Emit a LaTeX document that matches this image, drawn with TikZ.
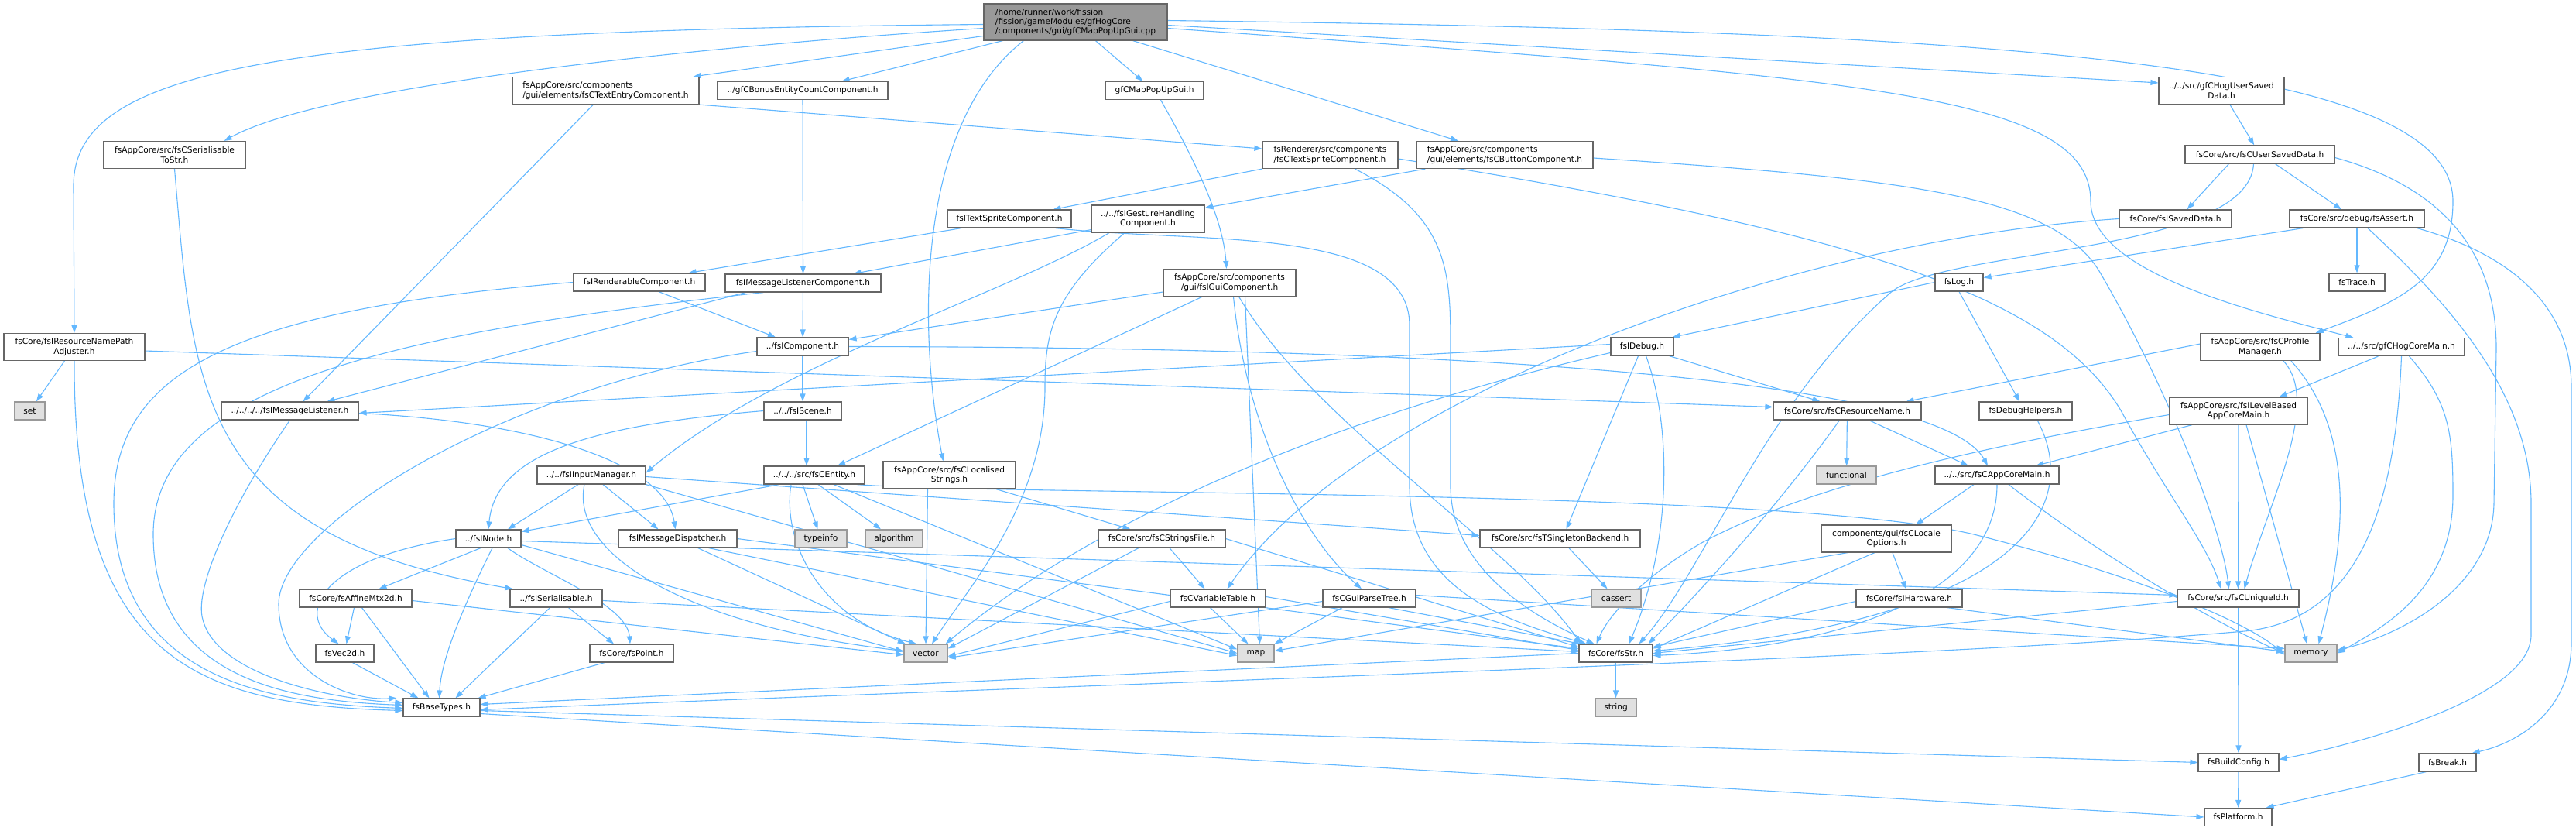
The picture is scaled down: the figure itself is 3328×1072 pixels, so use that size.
\documentclass[tikz,border=0pt]{standalone}
\usepackage{fontspec}
\setmainfont{DejaVu Sans}
\usetikzlibrary{arrows.meta}
\definecolor{edgec}{HTML}{63B8FF}
\definecolor{ndborder}{HTML}{666666}
\definecolor{extfill}{HTML}{E0E0E0}
\definecolor{extborder}{HTML}{999999}
\definecolor{rootfill}{HTML}{999999}
\pgfdeclarelayer{back}
\pgfdeclarelayer{edges}
\pgfsetlayers{back,edges,main}
\tikzset{
  nd/.style={draw=ndborder, fill=white, line width=1.2pt, inner xsep=3pt, inner ysep=2pt,
    font=\fontsize{10.6}{12.4}\selectfont, minimum height=23pt},
  extn/.style={nd, draw=extborder, fill=extfill},
  rootn/.style={nd, fill=rootfill},
  edg/.style={draw=edgec, line width=1.1pt, -{Triangle[length=10pt,width=7pt]}},
}
\begin{document}
\begin{tikzpicture}[x=1pt,y=-1pt]
\begin{pgfonlayer}{back}
\fill[white] (0,0) rectangle (3328,1072);
\end{pgfonlayer}
\useasboundingbox (0,0) rectangle (3328,1072);

% ---------- nodes ----------
\node[rootn, minimum width=237pt, minimum height=47pt, align=left] (root) at (1389.5,28.5) {/home/runner/work/fission\\/fission/gameModules/gfHogCore\\/components/gui/gfCMapPopUpGui.cpp};
\node[nd, minimum width=183pt, minimum height=35pt, align=center] (serial) at (225.5,200) {fsAppCore/src/fsCSerialisable\\ToStr.h};
\node[nd, minimum width=182pt, minimum height=35pt, align=center] (adj) at (96,448) {fsCore/fsIResourceNamePath\\Adjuster.h};
\node[extn, minimum width=39pt] (set) at (38.5,530.5) {set};
\node[nd, minimum width=241pt, minimum height=35pt, align=left] (textentry) at (782.5,117) {fsAppCore/src/components\\/gui/elements/fsCTextEntryComponent.h};
\node[nd, minimum width=220pt] (bonus) at (1037,117) {../gfCBonusEntityCountComponent.h};
\node[nd, minimum width=127pt] (mappopup) at (1491.5,117) {gfCMapPopUpGui.h};
\node[nd, minimum width=228pt, minimum height=35pt, align=left] (button) at (1944,200) {fsAppCore/src/components\\/gui/elements/fsCButtonComponent.h};
\node[nd, minimum width=162pt, minimum height=35pt, align=center] (hogusd) at (2870,117) {../../src/gfCHogUserSaved\\Data.h};
\node[nd, minimum width=175pt, minimum height=35pt, align=left] (textsprite) at (1718.5,200) {fsRenderer/src/components\\/fsCTextSpriteComponent.h};
\node[nd, minimum width=160pt] (itextsprite) at (1304,282.5) {fsITextSpriteComponent.h};
\node[nd, minimum width=146pt, minimum height=35pt, align=center] (igesture) at (1483,282.5) {../../fsIGestureHandling\\Component.h};
\node[nd, minimum width=170pt] (irenderable) at (826,364.5) {fsIRenderableComponent.h};
\node[nd, minimum width=201pt] (imsglistcomp) at (1037.5,365.5) {fsIMessageListenerComponent.h};
\node[nd, minimum width=171pt, minimum height=35pt, align=center] (iguicomp) at (1588.5,365) {fsAppCore/src/components\\/gui/fsIGuiComponent.h};
\node[nd, minimum width=193pt] (usersaved) at (2919.5,199.5) {fsCore/src/fsCUserSavedData.h};
\node[nd, minimum width=145pt] (isaved) at (2810.5,282.5) {fsCore/fsISavedData.h};
\node[nd, minimum width=174pt] (assert) at (3045,282.5) {fsCore/src/debug/fsAssert.h};
\node[nd, minimum width=62pt] (log) at (2531,364.5) {fsLog.h};
\node[nd, minimum width=72pt] (trace) at (3045,364.5) {fsTrace.h};
\node[nd, minimum width=154pt, minimum height=35pt, align=center] (profmgr) at (2920,448) {fsAppCore/src/fsCProfile\\Manager.h};
\node[nd, minimum width=163pt] (hogcoremain) at (3102.5,448) {../../src/gfCHogCoreMain.h};
\node[nd, minimum width=120pt] (debughelpers) at (2617,530.5) {fsDebugHelpers.h};
\node[nd, minimum width=178pt, minimum height=35pt, align=center] (levelbased) at (2892,530.5) {fsAppCore/src/fsILevelBased\\AppCoreMain.h};
\node[nd, minimum width=160pt] (appcoremain) at (2580,613.5) {../../src/fsCAppCoreMain.h};
\node[nd, minimum width=168pt, minimum height=35pt, align=center] (localeopts) at (2437,695.5) {components/gui/fsCLocale\\Options.h};
\node[nd, minimum width=177pt] (imsglistener) at (374.5,530.5) {../../../../fsIMessageListener.h};
\node[nd, minimum width=140pt] (iinputmgr) at (764,613.5) {../../fsIInputManager.h};
\node[nd, minimum width=84pt] (inode) at (631,695.5) {../fsINode.h};
\node[nd, minimum width=153pt] (imsgdispatcher) at (875.5,695.5) {fsIMessageDispatcher.h};
\node[nd, minimum width=118pt] (icomponent) at (1037,447.5) {../fsIComponent.h};
\node[nd, minimum width=100pt] (iscene) at (1037,530.5) {../../fsIScene.h};
\node[nd, minimum width=130pt] (fsCEntity) at (1052,613.5) {../../../src/fsCEntity.h};
\node[nd, minimum width=171pt, minimum height=35pt, align=center] (localised) at (1226.5,613.5) {fsAppCore/src/fsCLocalised\\Strings.h};
\node[extn, minimum width=67pt] (typeinfo) at (1060.5,695.5) {typeinfo};
\node[extn, minimum width=74pt] (algorithm) at (1155,695.5) {algorithm};
\node[nd, minimum width=164pt] (stringsfile) at (1501,695.5) {fsCore/src/fsCStringsFile.h};
\node[nd, minimum width=81pt] (idebug) at (2121.5,447.5) {fsIDebug.h};
\node[nd, minimum width=191pt] (resname) at (2386.5,530.5) {fsCore/src/fsCResourceName.h};
\node[extn, minimum width=77pt] (functional) at (2385.5,613.5) {functional};
\node[nd, minimum width=207pt] (singleton) at (2015.5,695.5) {fsCore/src/fsTSingletonBackend.h};
\node[nd, minimum width=145pt] (affine) at (459.5,772.5) {fsCore/fsAffineMtx2d.h};
\node[nd, minimum width=119pt] (iserial) at (718.5,772.5) {../fsISerialisable.h};
\node[nd, minimum width=75pt] (vec2d) at (445.5,843.5) {fsVec2d.h};
\node[nd, minimum width=108pt] (point) at (816,843.5) {fsCore/fsPoint.h};
\node[nd, minimum width=99pt] (basetypes) at (570.5,913.5) {fsBaseTypes.h};
\node[extn, minimum width=56pt] (vector) at (1196,843.5) {vector};
\node[nd, minimum width=123pt] (cvartable) at (1573.5,772.5) {fsCVariableTable.h};
\node[extn, minimum width=47pt] (map) at (1622.5,843.5) {map};
\node[nd, minimum width=120pt] (guiparsetree) at (1769,772.5) {fsCGuiParseTree.h};
\node[extn, minimum width=64pt] (cassert) at (2088,772.5) {cassert};
\node[nd, minimum width=95pt] (fsStr) at (2087.5,843.5) {fsCore/fsStr.h};
\node[extn, minimum width=53pt] (string) at (2087.5,913.5) {string};
\node[nd, minimum width=137pt] (ihardware) at (2466.5,772.5) {fsCore/fsIHardware.h};
\node[nd, minimum width=157pt] (uniqueid) at (2891.5,772.5) {fsCore/src/fsCUniqueId.h};
\node[extn, minimum width=67pt] (memory) at (2985.5,843.5) {memory};
\node[nd, minimum width=104pt] (buildconfig) at (2892,984.5) {fsBuildConfig.h};
\node[nd, minimum width=74pt] (brk) at (3162,984.5) {fsBreak.h};
\node[nd, minimum width=87pt] (platform) at (2891.5,1055) {fsPlatform.h};

% ---------- edges ----------
\begin{pgfonlayer}{edges}
% root
\draw[edg] ([yshift=-8pt]root.west) .. controls (900,60) and (420,110) .. ([xshift=-28pt]serial.north east);
\draw[edg] ([yshift=-3pt]root.west) .. controls (350,40) and (95,90) .. (95,240) -- (adj.north);
\draw[edg] ([yshift=-18pt]root.west) -- ([xshift=-8pt]textentry.north east);
\draw[edg] ([xshift=25pt]root.south west) -- ([xshift=-60pt]bonus.north east);
\draw[edg] ([xshift=52pt]root.south west) .. controls (1185,160) and (1185,420) .. ([xshift=-8pt]localised.north);
\draw[edg] ([xshift=145pt]root.south west) -- ([xshift=-15pt]mappopup.north);
\draw[edg] ([xshift=-45pt]root.south east) -- ([xshift=-60pt]button.north);
\draw[edg] ([yshift=-4pt]root.east) -- ([yshift=10pt]hogusd.west);
\draw[edg] ([yshift=-8pt]root.east) .. controls (2400,100) and (2701,120) .. (2701,260) .. controls (2701,350) and (2900,400) .. ([xshift=20pt]hogcoremain.north west);
\draw[edg] ([yshift=2pt]root.east) .. controls (2600,40) and (3169,80) .. (3169,260) .. controls (3169,360) and (3100,390) .. ([xshift=-6pt]profmgr.north east);
% serial
\draw[edg] (serial.south) .. controls (250,500) and (250,690) .. ([xshift=4pt]iserial.north west);
% adj
\draw[edg] (adj) -- (set);
\draw[edg] (adj.south) .. controls (95,850) and (250,910) .. ([yshift=-4pt]basetypes.west);
\draw[edg] ([yshift=-5pt]adj.east) -- ([yshift=5pt]resname.west);
% textentry
\draw[edg] ([xshift=-16pt]textentry.south) -- ([xshift=17pt]imsglistener.north);
\draw[edg] (textentry.south east) -- ([yshift=8pt]textsprite.west);
% bonus, mappopup
\draw[edg] (bonus) -- (imsglistcomp);
\draw[edg] ([xshift=8pt]mappopup.south) .. controls (1540,200) and (1580,280) .. ([xshift=-4pt]iguicomp.north);
% button
\draw[edg] ([xshift=12pt]button.south west) -- ([yshift=-4pt]igesture.north east);
\draw[edg] ([yshift=-4pt]button.east) .. controls (2450,230) and (2650,250) .. (2712,350) .. controls (2800,500) and (2870,680) .. ([xshift=-12pt]uniqueid.north);
% hogusd, usersaved
\draw[edg] (hogusd) -- (usersaved);
\draw[edg] ([xshift=-40pt]usersaved.south) -- ([xshift=15pt]isaved.north);
\draw[edg] ([xshift=20pt]usersaved.south) -- ([xshift=-20pt]assert.north);
\draw[edg] ([xshift=-8pt]usersaved.south) .. controls (2905,330) and (2500,320) .. (2440,380) .. controls (2280,520) and (2200,740) .. ([xshift=30pt]fsStr.north);
\draw[edg] ([yshift=-4pt]usersaved.east) .. controls (3150,240) and (3225,320) .. (3225,450) -- (3222,650) .. controls (3220,760) and (3100,820) .. ([yshift=4pt]memory.east);
\draw[edg] (isaved.west) .. controls (2300,310) and (1750,520) .. ([xshift=12pt]cvartable.north);
% assert
\draw[edg] ([xshift=18pt]assert.south west) -- ([yshift=6pt]log.east);
\draw[edg] (assert) -- (trace);
\draw[edg] ([xshift=14pt]assert.south) .. controls (3150,380) and (3270,500) .. (3270,650) -- (3270,820) .. controls (3270,900) and (3050,960) .. ([yshift=4pt]buildconfig.east);
\draw[edg] ([xshift=-10pt]assert.south east) .. controls (3250,330) and (3322,400) .. (3322,500) -- (3322,830) .. controls (3322,920) and (3250,960) .. ([xshift=-6pt]brk.north east);
% log, debughelpers
\draw[edg] (log.west) -- ([xshift=-2pt]idebug.north east);
\draw[edg] (log.south) -- ([xshift=-8pt]debughelpers.north);
\draw[edg] ([xshift=15pt]debughelpers.south) .. controls (2690,650) and (2620,800) .. ([yshift=3pt]fsStr.east);
% idebug
\draw[edg] ([xshift=-6pt]idebug.south east) -- ([xshift=-35pt]resname.north);
\draw[edg] ([xshift=-5pt]idebug.south) -- ([xshift=8pt]singleton.north);
\draw[edg] ([xshift=5pt]idebug.south) .. controls (2160,550) and (2160,700) .. ([xshift=17pt]fsStr.north);
\draw[edg] ([yshift=-8pt]idebug.west) .. controls (1800,520) and (1450,640) .. ([xshift=-3pt]vector.north east);
\draw[edg] ([yshift=3pt]idebug.west) -- ([yshift=-3pt]imsglistener.east);
% resname
\draw[edg] (resname) -- (functional);
\draw[edg] ([xshift=-10pt]resname.south) .. controls (2300,650) and (2200,760) .. ([xshift=-6pt]fsStr.north east);
\draw[edg] ([xshift=28pt]resname.south) -- ([xshift=-37pt]appcoremain.north);
% profmgr
\draw[edg] ([yshift=4pt]profmgr.west) -- ([xshift=-20pt]resname.north east);
\draw[edg] ([xshift=30pt]profmgr.south) .. controls (3000,520) and (2930,650) .. ([xshift=8pt]uniqueid.north);
\draw[edg] ([xshift=40pt]profmgr.south) .. controls (3045,560) and (3030,700) .. ([xshift=10pt]memory.north);
% hogcoremain
\draw[edg] ([xshift=-30pt]hogcoremain.south) -- ([xshift=-37pt]levelbased.north east);
\draw[edg] ([xshift=10pt]hogcoremain.south) .. controls (3165,520) and (3169,560) .. (3169,640) .. controls (3169,760) and (3080,810) .. (memory.east);
\draw[edg] (hogcoremain.south) .. controls (3095,650) and (3050,800) .. (2900,815) .. controls (2500,850) and (1500,880) .. ([yshift=-3pt]basetypes.east);
% levelbased
\draw[edg] ([xshift=-60pt]levelbased.south) -- ([xshift=50pt]appcoremain.north);
\draw[edg] (levelbased.south) -- (uniqueid.north);
\draw[edg] ([xshift=10pt]levelbased.south) -- ([xshift=-5pt]memory.north);
\draw[edg] ([yshift=-5pt]levelbased.west) .. controls (2600,570) and (2350,620) .. (2200,700) .. controls (2130,740) and (2080,790) .. ([xshift=-25pt]fsStr.north);
% appcoremain
\draw[edg] ([xshift=-30pt]appcoremain.south) -- ([xshift=38pt]localeopts.north);
\draw[edg] (appcoremain.south) .. controls (2580,760) and (2400,835) .. ([yshift=-3pt]fsStr.east);
\draw[edg] ([xshift=15pt]appcoremain.south) .. controls (2690,700) and (2850,800) .. (memory.west);
% localeopts, ihardware, uniqueid
\draw[edg] ([xshift=8pt]localeopts.south) -- ([xshift=-4pt]ihardware.north);
\draw[edg] ([xshift=-15pt]localeopts.south) -- ([yshift=6pt]fsStr.east);
\draw[edg] ([xshift=-50pt]localeopts.south) -- ([yshift=3pt]map.east);
\draw[edg] ([yshift=-4pt]ihardware.west) -- ([yshift=8pt]fsStr.east);
\draw[edg] ([xshift=-20pt]ihardware.south east) -- ([yshift=2pt]memory.west);
\draw[edg] (uniqueid) -- (buildconfig);
\draw[edg] ([yshift=-4pt]uniqueid.west) -- (fsStr.east);
% bottom
\draw[edg] (fsStr) -- (string);
\draw[edg] (fsStr.west) -- ([yshift=4pt]basetypes.east);
\draw[edg] ([yshift=-4pt]basetypes.east) -- (buildconfig.west);
\draw[edg] ([yshift=-8pt]basetypes.east) -- (platform.west);
\draw[edg] (buildconfig) -- (platform);
\draw[edg] ([xshift=10pt]brk.south west) -- ([xshift=-8pt]platform.north east);
% textsprite, itextsprite, irenderable
\draw[edg] (textsprite.south west) -- ([xshift=-24pt]itextsprite.north east);
\draw[edg] ([xshift=32pt]textsprite.south) .. controls (1872,280) and (1874,350) .. (1874,450) -- (1874,630) .. controls (1876,740) and (1990,800) .. ([xshift=-28pt]fsStr.north);
\draw[edg] ([yshift=-5pt]textsprite.east) .. controls (2400,300) and (2650,380) .. (2740,530) .. controls (2800,640) and (2850,700) .. ([xshift=-22pt]uniqueid.north);
\draw[edg] ([xshift=-62pt]itextsprite.south) -- ([xshift=-22pt]irenderable.north east);
\draw[edg] ([xshift=-21pt]itextsprite.south east) .. controls (1550,315) and (1821,290) .. (1821,420) -- (1821,630) .. controls (1823,760) and (1940,800) .. ([xshift=-38pt]fsStr.north);
\draw[edg] ([xshift=25pt]irenderable.south) -- ([xshift=-35pt]icomponent.north);
\draw[edg] (irenderable.west) .. controls (300,400) and (147,480) .. (147,650) .. controls (147,880) and (350,908) .. ([yshift=-1pt]basetypes.west);
% igesture
\draw[edg] ([yshift=4pt]igesture.south west) -- ([xshift=-36pt]imsglistcomp.north east);
\draw[edg] ([xshift=-50pt]igesture.south) .. controls (1300,380) and (1000,470) .. ([yshift=3pt]iinputmgr.east);
\draw[edg] ([xshift=-30pt]igesture.south) .. controls (1360,380) and (1350,430) .. (1350,500) .. controls (1350,650) and (1250,760) .. ([xshift=8pt]vector.north);
% imsglistcomp
\draw[edg] (imsglistcomp) -- (icomponent);
\draw[edg] ([xshift=27pt]imsglistcomp.south west) -- ([xshift=48pt]imsglistener.north);
\draw[edg] ([xshift=50pt]imsglistcomp.south west) .. controls (500,430) and (198,500) .. (198,690) .. controls (198,880) and (380,905) .. ([yshift=3pt]basetypes.west);
% iguicomp
\draw[edg] ([yshift=-12pt]iguicomp.west) -- ([yshift=-3pt]icomponent.north east);
\draw[edg] ([xshift=-35pt]iguicomp.south) -- ([xshift=30pt]fsCEntity.north);
\draw[edg] ([xshift=5pt]iguicomp.south) .. controls (1610,550) and (1680,690) .. ([xshift=-10pt]guiparsetree.north);
\draw[edg] ([xshift=12pt]iguicomp.south) .. controls (1700,550) and (1950,700) .. ([xshift=-45pt]fsStr.north);
\draw[edg] ([xshift=20pt]iguicomp.south) -- ([xshift=5pt]map.north);
% icomponent, iscene
\draw[edg] (icomponent) -- (iscene);
\draw[edg] ([yshift=-6pt]icomponent.west) .. controls (650,500) and (360,680) .. (360,780) .. controls (360,870) and (450,905) .. ([xshift=-8pt]basetypes.north west);
\draw[edg] (icomponent.east) .. controls (1800,448) and (2500,480) .. ([xshift=-12pt]appcoremain.north);
\draw[edg] ([xshift=5pt]iscene.south) -- ([xshift=-10pt]fsCEntity.north);
\draw[edg] (iscene.west) .. controls (750,550) and (640,590) .. (inode.north);
% fsCEntity
\draw[edg] ([xshift=-45pt]fsCEntity.south) -- ([yshift=-3pt]inode.north east);
\draw[edg] ([xshift=-15pt]fsCEntity.south) -- (typeinfo);
\draw[edg] ([xshift=5pt]fsCEntity.south) -- (algorithm);
\draw[edg] ([xshift=-30pt]fsCEntity.south) .. controls (1010,700) and (1060,800) .. ([xshift=-12pt]vector.north);
\draw[edg] ([xshift=25pt]fsCEntity.south) -- ([yshift=5pt]map.west);
\draw[edg] ([xshift=55pt]fsCEntity.south) .. controls (1300,640) and (2300,630) .. (2550,690) .. controls (2750,740) and (2900,800) .. ([yshift=-2pt]memory.west);
% imsglistener
\draw[edg] (imsglistener.south) .. controls (300,650) and (250,760) .. (262,800) .. controls (280,870) and (420,902) .. ([yshift=6pt]basetypes.west);
\draw[edg] ([yshift=-3pt]imsglistener.east) .. controls (700,545) and (860,600) .. ([xshift=-3pt]imsgdispatcher.north);
% iinputmgr
\draw[edg] ([xshift=-17pt]iinputmgr.south) -- ([xshift=25pt]inode.north);
\draw[edg] ([xshift=15pt]iinputmgr.south) -- ([xshift=-25pt]imsgdispatcher.north);
\draw[edg] ([xshift=-9pt]iinputmgr.south) .. controls (735,720) and (900,810) .. ([yshift=3pt]vector.west);
\draw[edg] (iinputmgr.south east) -- (map.west);
\draw[edg] ([yshift=-2pt]iinputmgr.east) -- ([yshift=4pt]singleton.west);
% inode
\draw[edg] (inode.west) .. controls (420,720) and (380,790) .. ([xshift=-8pt]vec2d.north);
\draw[edg] ([xshift=-10pt]inode.south) -- ([xshift=30pt]affine.north);
\draw[edg] ([xshift=25pt]inode.south) .. controls (700,740) and (810,780) .. ([xshift=-2pt]point.north);
\draw[edg] ([xshift=5pt]inode.south) .. controls (600,780) and (570,850) .. ([xshift=-3pt]basetypes.north);
\draw[edg] ([yshift=-8pt]inode.east) -- ([yshift=2pt]vector.west);
\draw[edg] ([yshift=-3pt]inode.east) -- ([yshift=4pt]uniqueid.west);
% imsgdispatcher
\draw[edg] (imsgdispatcher) -- (vector);
\draw[edg] ([xshift=40pt]imsgdispatcher.south) -- ([yshift=-3pt]map.west);
\draw[edg] (imsgdispatcher.east) -- ([yshift=6pt]fsStr.west);
% localised, stringsfile, cvartable
\draw[edg] (localised) -- (stringsfile);
\draw[edg] ([xshift=-28pt]localised.south) -- (vector.north);
\draw[edg] ([xshift=10pt]stringsfile.south) -- ([xshift=-17pt]cvartable.north);
\draw[edg] ([xshift=-30pt]stringsfile.south) -- ([yshift=6pt]vector.east);
\draw[edg] (stringsfile.east) -- ([yshift=8pt]fsStr.west);
\draw[edg] ([xshift=-10pt]cvartable.south) -- ([xshift=-10pt]map.north);
\draw[edg] ([yshift=-4pt]cvartable.west) -- ([yshift=-4pt]vector.east);
\draw[edg] ([yshift=2pt]cvartable.east) -- ([yshift=4pt]fsStr.west);
% guiparsetree
\draw[edg] ([yshift=-4pt]guiparsetree.west) -- ([yshift=-6pt]vector.east);
\draw[edg] ([xshift=-35pt]guiparsetree.south) -- (map.north east);
\draw[edg] ([xshift=25pt]guiparsetree.south) -- ([xshift=3pt]fsStr.north west);
\draw[edg] ([yshift=4pt]guiparsetree.east) -- ([yshift=6pt]memory.west);
% singleton
\draw[edg] (singleton) -- (cassert);
% affine, vec2d, iserial, point
\draw[edg] ([xshift=-2pt]affine.south) -- ([xshift=2pt]vec2d.north);
\draw[edg] ([xshift=8pt]affine.south) -- ([xshift=-16pt]basetypes.north);
\draw[edg] ([yshift=-3pt]affine.east) -- ([yshift=-2pt]vector.west);
\draw[edg] ([xshift=10pt]vec2d.south) -- ([xshift=-30pt]basetypes.north);
\draw[edg] ([xshift=-8pt]iserial.south) -- ([xshift=18pt]basetypes.north);
\draw[edg] ([xshift=16pt]iserial.south) -- ([xshift=-23pt]point.north);
\draw[edg] ([yshift=-3pt]iserial.east) -- ([yshift=2pt]fsStr.west);
\draw[edg] ([xshift=-35pt]point.south) -- ([xshift=-3pt]basetypes.north east);
\end{pgfonlayer}
\end{tikzpicture}
\end{document}
